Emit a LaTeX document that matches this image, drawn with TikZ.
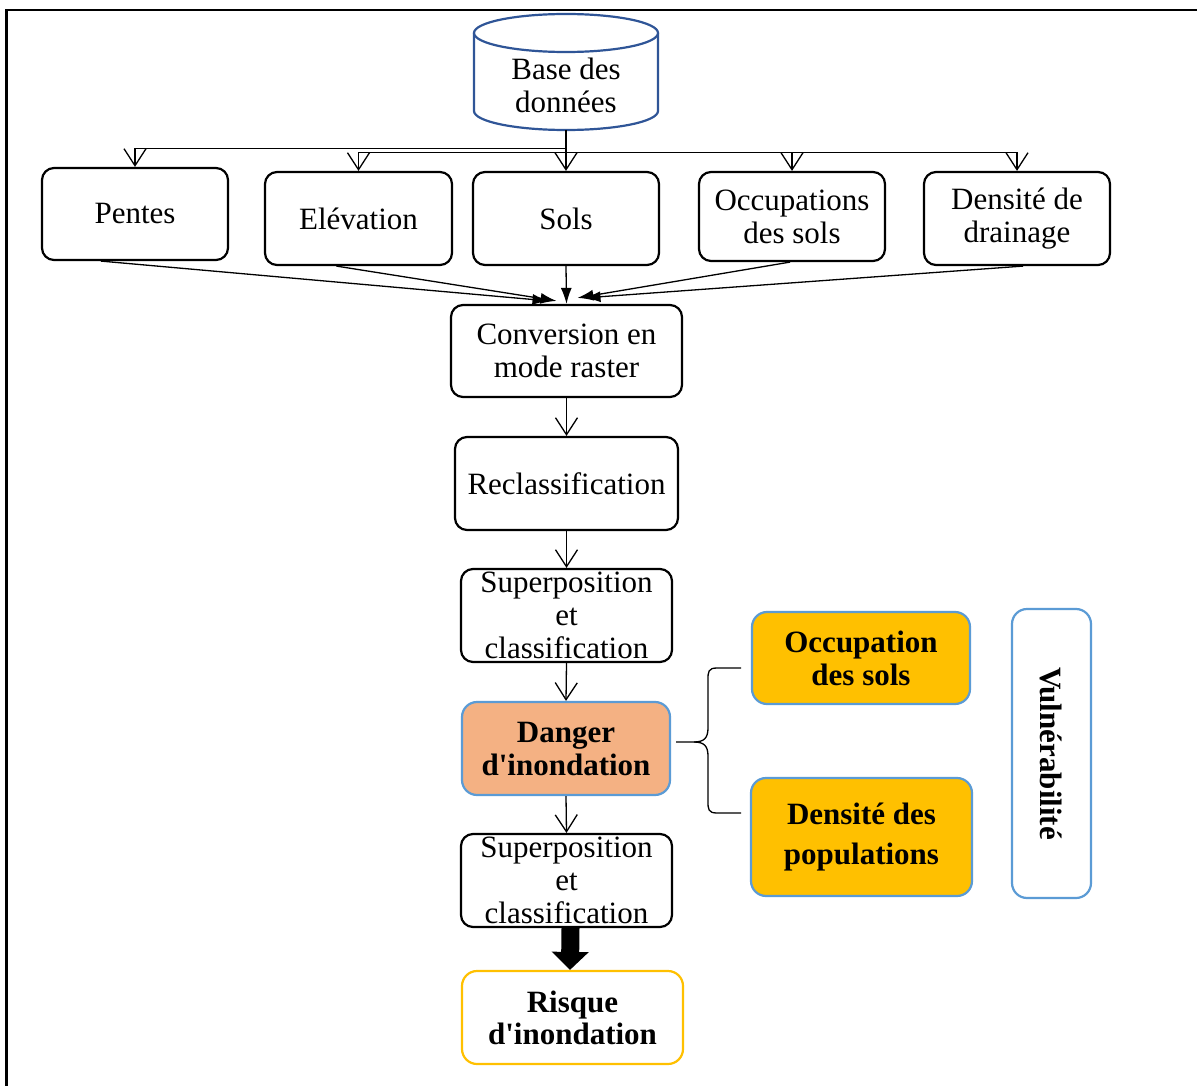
\documentclass[tikz,border=0pt]{standalone}
\usepackage{fontspec}
\setmainfont{Liberation Serif}[Ligatures=TeXOff]
\usetikzlibrary{arrows.meta,calc}
\definecolor{cylblue}{HTML}{2F5597}
\definecolor{lblue}{HTML}{5B9BD5}
\definecolor{salmon}{HTML}{F4B183}
\definecolor{gold}{HTML}{FFC000}
\newcommand\myfs{\fontsize{31pt}{33pt}\selectfont}
\begin{document}
\begin{tikzpicture}[x=1pt,y=1pt,
  box/.style={draw, line width=2.2pt, rounded corners=12pt, align=center, inner sep=0pt, font=\myfs, fill=white},
  bluebox/.style={box, draw=lblue, rounded corners=15pt, font=\bfseries\myfs},
  conn/.style={line width=1.3pt},
  vhead/.style={conn, -{Straight Barb[length=17pt,width=22pt]}},
  fhead/.style={conn, -{Latex[length=16pt,width=11pt]}},
]
\useasboundingbox (0,0) rectangle (1197,-1086);
% frame
\draw[line width=2.5pt] (6.5,-1090) -- (6.5,-10) -- (1200,-10);

% database cylinder
\fill[white] (474,-33) -- (474,-111) arc[start angle=180,end angle=360,x radius=92pt,y radius=19pt] -- (658,-33) -- cycle;
\draw[cylblue, line width=2.2pt] (474,-33) -- (474,-111) arc[start angle=180,end angle=360,x radius=92pt,y radius=19pt] -- (658,-33);
\draw[cylblue, line width=2.2pt, fill=white] (566,-33) ellipse [x radius=92pt, y radius=19pt];
\node[minimum width=185pt, minimum height=89pt, inner sep=0pt, align=center, font=\myfs] (db) at (566,-85.5) {Base des\\données};

% first row
\node[box, minimum width=186pt, minimum height=92pt] (pentes) at (135,-214) {Pentes};
\node[box, minimum width=187pt, minimum height=93pt] (elev) at (358.5,-218.5) {Elévation};
\node[box, minimum width=186pt, minimum height=93pt] (sols) at (566,-218.5) {Sols};
\node[box, minimum width=186pt, minimum height=89pt] (occ) at (792,-216.5) {Occupations\\des sols};
\node[box, minimum width=186pt, minimum height=93pt] (dens) at (1017,-218.5) {Densité de\\drainage};

% chain
\node[box, minimum width=231pt, minimum height=92pt] (conv) at (566.5,-351) {Conversion en\\mode raster};
\node[box, minimum width=223pt, minimum height=93pt] (recl) at (566.5,-483.5) {Reclassification};
\node[box, minimum width=211pt, minimum height=93pt] (sup1) at (566.5,-615.5) {Superposition\\et\\classification};
\node[bluebox, fill=salmon, minimum width=208pt, minimum height=93pt] (danger) at (566,-748.5) {Danger\\d'inondation};
\node[box, minimum width=211pt, minimum height=93pt] (sup2) at (566.5,-880.5) {Superposition\\et\\classification};
\node[box, draw=gold, rounded corners=15pt, font=\bfseries\myfs, minimum width=221pt, minimum height=93pt] (risque) at (572.5,-1017.5) {Risque\\[-1pt]d'inondation};

% vulnerability
\node[bluebox, fill=gold, minimum width=218pt, minimum height=92pt] (occpop) at (861,-658) {Occupation\\des sols};
\node[bluebox, fill=gold, minimum width=221pt, minimum height=118pt] (denspop) at (861.5,-837) {Densité des\\[7pt]populations};
\node[bluebox, rotate=-90, minimum width=289pt, minimum height=79pt] (vuln) at (1051.5,-753.5) {Vulnérabilité};

% distribution connectors
\draw[vhead] (db.south) -- ++(0,-18) -| (pentes.north);
\draw[vhead] (db.south) -- ++(0,-22) -| (elev.north);
\draw[vhead] (db.south) -- (sols.north);
\draw[vhead] (db.south) -- ++(0,-22) -| (occ.north);
\draw[vhead] (db.south) -- ++(0,-22) -| (dens.north);

% converging connectors
\draw[fhead] ([xshift=-34pt]pentes.south) -- ([xshift=-18pt,yshift=3pt]conv.north);
\draw[fhead] ([xshift=-22pt]elev.south) -- ([xshift=-10pt,yshift=3pt]conv.north);
\draw[fhead] (sols.south) -- (conv.north);
\draw[fhead] ([xshift=-2pt]occ.south) -- ([xshift=11pt,yshift=6pt]conv.north);
\draw[fhead] ([xshift=6pt]dens.south) -- ([xshift=18pt,yshift=6pt]conv.north);

% chain connectors
\draw[vhead] (conv.south) -- (recl.north);
\draw[vhead] (recl.south) -- (sup1.north);
\draw[vhead] (sup1.south) -- (danger.north);
\draw[vhead] (danger.south) -- (sup2.north);
\draw[line width=18pt, -{Triangle[length=18pt,width=36pt]}] ([xshift=4pt]sup2.south) -- ([xshift=-2.5pt]risque.north);

% brace
\coordinate (btip) at (676,-742);
\coordinate (btop) at (741,-668);
\coordinate (bbot) at (741,-813);
\draw[conn] (btop) -- (717,-668) .. controls (708,-668) and (708,-672) .. (708,-680) -- (708,-728) .. controls (708,-738) and (704,-742) .. (694,-742) -- (btip);
\draw[conn] (bbot) -- (717,-813) .. controls (708,-813) and (708,-809) .. (708,-801) -- (708,-756) .. controls (708,-746) and (704,-742) .. (694,-742);
\end{tikzpicture}
\end{document}
